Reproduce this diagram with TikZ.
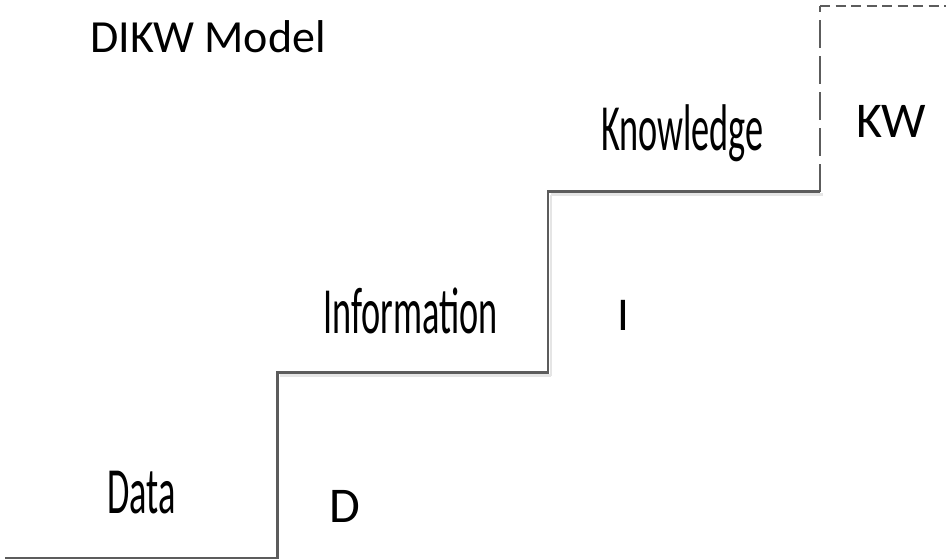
\documentclass[tikz,border=0pt]{standalone}
\usepackage{fontspec}
\setmainfont{Carlito}
\newlength{\du}
\setlength{\du}{1pt}
\tikzset{
  stairline/.style={line width=2.4\du, draw=stepgray},
  stairshade/.style={line width=2.4\du, draw=shadegray},
  stairlabel/.style={inner sep=0pt, anchor=base west, xscale=0.55, font=\fontsize{66}{70}\selectfont},
  tagtext/.style={inner sep=0pt, anchor=base west}
}
\definecolor{stepgray}{rgb}{0.360000, 0.360000, 0.360000}
\definecolor{shadegray}{rgb}{0.900000, 0.900000, 0.900000}
\begin{document}
\begin{tikzpicture}
\pgftransformxscale{1.000000}
\pgftransformyscale{-1.000000}
\useasboundingbox (0\du,0\du) rectangle (946\du,560\du);
% corners of the stairs
\coordinate (s0) at (5\du,558\du);
\coordinate (s1) at (277.5\du,558\du);
\coordinate (s2) at (277.5\du,372.5\du);
\coordinate (s3) at (548\du,372.5\du);
\coordinate (s4) at (548\du,191.5\du);
\coordinate (s5) at (820\du,191.5\du);
\coordinate (s6) at (820\du,6\du);
\coordinate (s7) at (946\du,6\du);
% shadow
\draw[stairshade] ([shift={(2.5\du,3\du)}]s2)--([shift={(2.5\du,3\du)}]s3);
\draw[stairshade] ([shift={(3\du,3\du)}]s4)--([shift={(3\du,3\du)}]s5);
\draw[stairshade] ([shift={(3\du,3\du)}]s3)--([shift={(3\du,3\du)}]s4);
% stairs
\draw[stairline] (s0)--(s1)--(s2)--(s3)--(s4)--(s5);
\draw[stairline, dash pattern=on 28\du off 8\du] (s5)--(s6);
\draw[stairline, dash pattern=on 10\du off 5.5\du] (s6)--(s7);
% setfont left to latex
\node[tagtext, font=\fontsize{46}{50}\selectfont] (title) at (90\du,52\du){DIKW Model};
\node[stairlabel] (data) at (107\du,513\du){Data};
\node[stairlabel] (info) at (323\du,333\du){Information};
\node[stairlabel] (know) at (601\du,150\du){Knowledge};
\node[tagtext, font=\fontsize{50}{54}\selectfont] (tagd) at (329\du,522\du){D};
\node[tagtext, font=\fontsize{47}{50}\selectfont] (tagi) at (617\du,330\du){I};
\node[tagtext, font=\fontsize{50}{54}\selectfont] (tagkw) at (856\du,137\du){KW};
\end{tikzpicture}
\end{document}
